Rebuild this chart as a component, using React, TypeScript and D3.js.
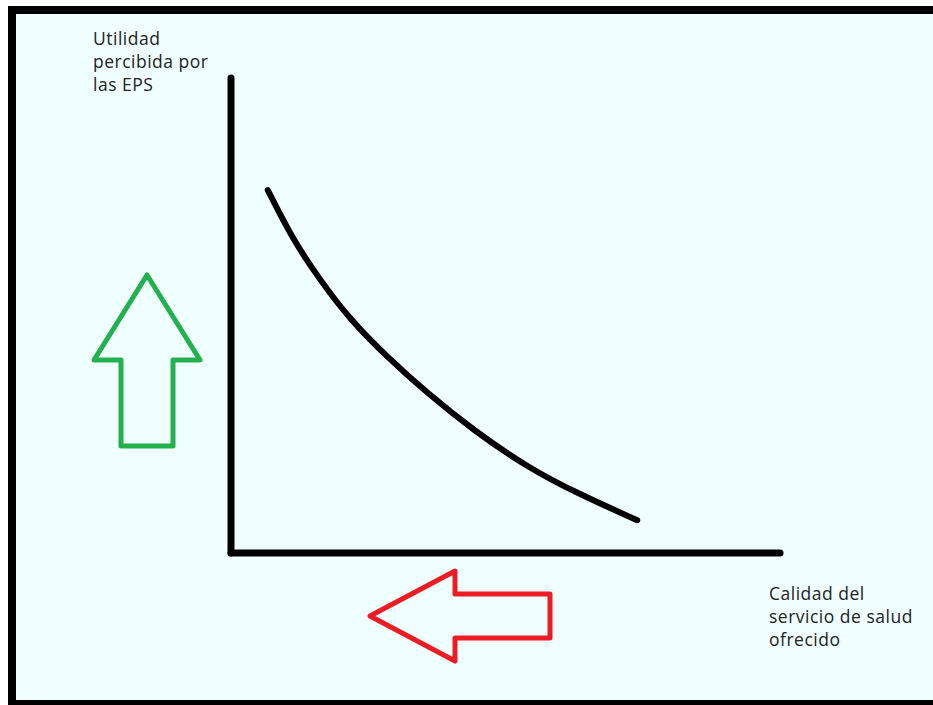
import { useEffect, useRef } from 'react'
import * as d3 from 'd3'

// curve (x: quality, y: perceived utility, both 0..100)
const curveX = [6.7, 11.3, 16.2, 21.7, 28.4, 35.7, 44.1, 53.9, 63.0, 74.0]
const curveY = [76.4, 65.9, 57.5, 49.1, 41.3, 33.7, 25.9, 18.1, 12.6, 6.9]

const yLabel = ['Utilidad', 'percibida por', 'las EPS']
const xLabel = ['Calidad del', 'servicio de salud', 'ofrecido']

// arrow outline, in arrow-local units (tip pointing up)
const arrowShape: [number, number][] = [
  [0, 0], [53, 85], [26, 85], [26, 171], [-26, 171], [-26, 85], [-53, 85],
]

export default function App() {
  const svgRef = useRef<SVGSVGElement>(null)

  useEffect(() => {
    if (!svgRef.current) return
    const svg = d3.select(svgRef.current)
    svg.selectAll('*').remove()

    const W = 933
    const H = 705
    svg.attr('width', W).attr('height', H)

    svg.append('rect').attr('width', W).attr('height', H).attr('fill', '#ffffff')
    // frame (right edge cut off like the screenshot)
    svg.append('rect')
      .attr('x', 12).attr('y', 10).attr('width', W + 20).attr('height', 694)
      .attr('fill', '#f0ffff')
      .attr('stroke', '#000').attr('stroke-width', 8)

    const x = d3.scaleLinear().domain([0, 100]).range([231, 780])
    const y = d3.scaleLinear().domain([0, 100]).range([553, 78])

    // axes
    svg.append('line')
      .attr('x1', x(0)).attr('x2', x(0)).attr('y1', y(100)).attr('y2', y(0))
      .attr('stroke', '#000').attr('stroke-width', 7).attr('stroke-linecap', 'round')
    svg.append('line')
      .attr('x1', x(0)).attr('x2', x(100)).attr('y1', y(0)).attr('y2', y(0))
      .attr('stroke', '#000').attr('stroke-width', 7).attr('stroke-linecap', 'round')

    const pts = curveX.map((v, i) => [x(v), y(curveY[i])] as [number, number])
    const line = d3.line().curve(d3.curveBasis)
    svg.append('path')
      .attr('d', line(pts))
      .attr('fill', 'none')
      .attr('stroke', '#000')
      .attr('stroke-width', 6)
      .attr('stroke-linecap', 'round')
      .attr('stroke-linejoin', 'round')

    const arrowLine = d3.line().curve(d3.curveLinearClosed)

    // green arrow, up
    svg.append('path')
      .attr('d', arrowLine(arrowShape))
      .attr('transform', 'translate(147,275)')
      .attr('fill', 'none')
      .attr('stroke', '#22b14c')
      .attr('stroke-width', 5)
      .attr('stroke-linejoin', 'round')

    // red arrow, left (same outline turned, shorter shaft)
    const redShape: [number, number][] = arrowShape.map(([a, b]) => [b === 171 ? 180 : b, a * 0.85] as [number, number])
    svg.append('path')
      .attr('d', arrowLine(redShape))
      .attr('transform', 'translate(370,616)')
      .attr('fill', 'none')
      .attr('stroke', '#ed1c24')
      .attr('stroke-width', 5)
      .attr('stroke-linejoin', 'round')

    const font = '"Open Sans", "Noto Sans", sans-serif'
    const addLabel = (lines: string[], lx: number, ly: number) => {
      const t = svg.append('text')
        .attr('x', lx).attr('y', ly)
        .attr('font-family', font)
        .attr('font-size', 17.5)
        .attr('letter-spacing', 0.5)
        .attr('fill', '#222')
      lines.forEach((s, i) => {
        t.append('tspan').attr('x', lx).attr('dy', i === 0 ? 0 : 23).text(s)
      })
    }
    addLabel(yLabel, 93, 45)
    addLabel(xLabel, 769, 600)
  }, [])

  return <svg ref={svgRef} style={{ position: 'absolute', left: 0, top: 0, display: 'block' }} />
}
